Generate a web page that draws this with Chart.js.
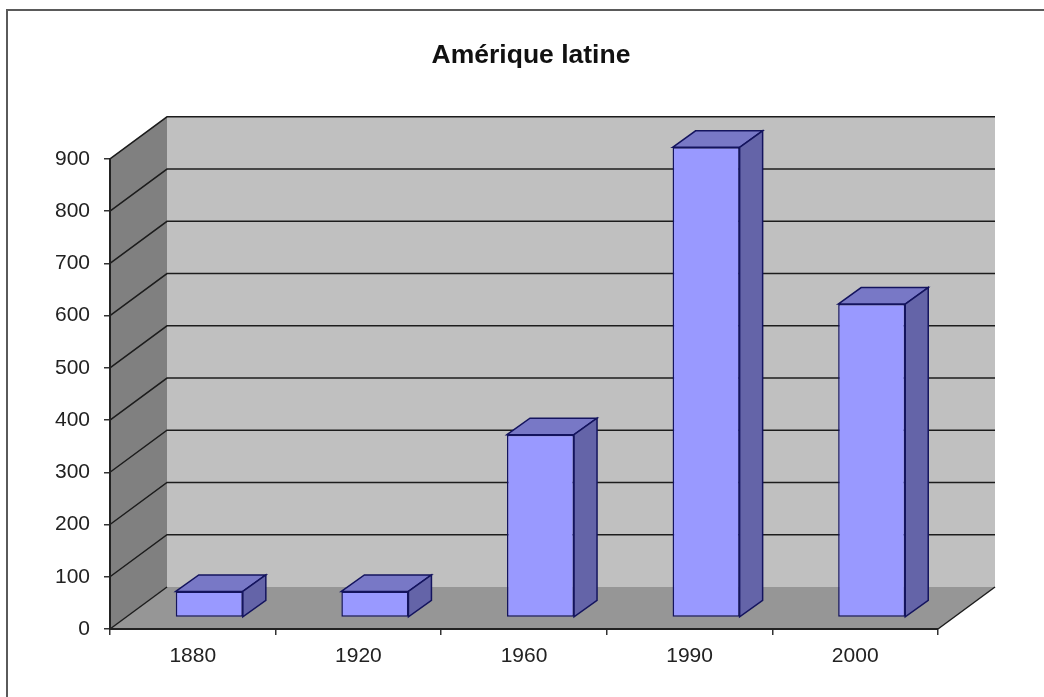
<!DOCTYPE html>
<html><head><meta charset="utf-8">
<style>html,body{margin:0;padding:0;background:#fff}canvas{display:block}</style>
<script src="https://cdn.jsdelivr.net/npm/chart.js@4"></script>
</head><body><canvas id="c" width="1044" height="697"></canvas>
<script>
const titleText = "Amérique latine";
const categories = ["1880", "1920", "1960", "1990", "2000"];
const values = [50, 50, 350, 900, 600];
const yTicks = [0, 100, 200, 300, 400, 500, 600, 700, 800, 900];

const wallDx = 57, wallDy = -42, barDx = 16.5, barDy = -11.5, sideDx = 23, sideDy = -16.5;
const font = "'Liberation Sans', Arial, sans-serif";

function poly(ctx, pts, fill, stroke, lw) {
  ctx.beginPath();
  pts.forEach((p, i) => i ? ctx.lineTo(p[0], p[1]) : ctx.moveTo(p[0], p[1]));
  ctx.closePath();
  if (fill) { ctx.fillStyle = fill; ctx.fill(); }
  if (stroke) { ctx.strokeStyle = stroke; ctx.lineWidth = lw; ctx.stroke(); }
}

const scene = {
  id: "scene",
  beforeDraw(chart) {
    const { ctx } = chart, x = chart.scales.x, y = chart.scales.y;
    const l = x.left, r = x.right, t = y.getPixelForValue(900), b = y.getPixelForValue(0);
    ctx.save();
    ctx.strokeStyle = "#5a5a5a"; ctx.lineWidth = 2;
    ctx.beginPath(); ctx.moveTo(7, 697); ctx.lineTo(7, 10); ctx.lineTo(1044, 10); ctx.stroke();
    poly(ctx, [[l + wallDx, t + wallDy], [r + wallDx, t + wallDy], [r + wallDx, b + wallDy], [l + wallDx, b + wallDy]], "#c0c0c0");
    poly(ctx, [[l, t], [l + wallDx, t + wallDy], [l + wallDx, b + wallDy], [l, b]], "#808080");
    poly(ctx, [[l, b], [l + wallDx, b + wallDy], [r + wallDx, b + wallDy], [r, b]], "#969696");
    ctx.strokeStyle = "#1c1c1c"; ctx.lineWidth = 1.5;
    yTicks.forEach(v => {
      const py = y.getPixelForValue(v);
      ctx.beginPath();
      ctx.moveTo(l, py); ctx.lineTo(l + wallDx, py + wallDy);
      if (v > 0) ctx.lineTo(r + wallDx, py + wallDy);
      ctx.stroke();
    });
    ctx.beginPath(); ctx.moveTo(r, b); ctx.lineTo(r + wallDx, b + wallDy); ctx.stroke();
    ctx.restore();
  },
  beforeDatasetDraw(chart) {
    const { ctx } = chart;
    const meta = chart.getDatasetMeta(0);
    ctx.save();
    ctx.translate(barDx, barDy);
    meta.data.forEach(bar => {
      const p = bar.getProps(["x", "y", "base", "width"], true);
      const L = p.x - p.width / 2, R = p.x + p.width / 2;
      const outline = "#14145e";
      poly(ctx, [[L, p.y], [L + sideDx, p.y + sideDy], [R + sideDx, p.y + sideDy], [R, p.y]], "#7878c6", outline, 1.5);
      poly(ctx, [[R, p.y], [R + sideDx, p.y + sideDy], [R + sideDx, p.base + sideDy], [R, p.base]], "#6464a8", outline, 1.5);
    });
  },
  afterDatasetDraw(chart) { chart.ctx.restore(); }
};

new Chart(document.getElementById("c"), {
  type: "bar",
  data: {
    labels: categories,
    datasets: [{
      data: values,
      backgroundColor: "#9999ff",
      borderColor: "#14145e",
      borderWidth: 1.5,
      borderSkipped: false,
      barPercentage: 0.405,
      categoryPercentage: 1
    }]
  },
  plugins: [scene],
  options: {
    responsive: false,
    animation: false,
    layout: { padding: { left: 18, right: 0, top: 0, bottom: 0 } },
    plugins: {
      legend: { display: false },
      tooltip: { enabled: false },
      title: {
        display: true, text: titleText, color: "#111",
        font: { family: font, size: 26.5, weight: "bold" },
        padding: { top: 40, bottom: 87 }
      }
    },
    scales: {
      x: {
        grid: { drawOnChartArea: false, color: "#333", tickLength: 6, lineWidth: 1.5 },
        border: { color: "#222", width: 2 },
        ticks: { color: "#222", font: { family: font, size: 21 }, padding: 9, maxRotation: 0 },
        afterFit(s) { s.height = 68; }
      },
      y: {
        min: 0, max: 900,
        afterBuildTicks(s) { s.ticks = yTicks.map(v => ({ value: v })); },
        grid: { drawOnChartArea: false, color: "#333", tickLength: 6, lineWidth: 1.5 },
        border: { color: "#222", width: 2 },
        ticks: { color: "#222", font: { family: font, size: 21 }, padding: 14 },
        afterFit(s) { s.width = 92; }
      },
      r: {
        position: "right", min: 0, max: 1,
        grid: { display: false }, border: { display: false }, ticks: { display: false },
        afterFit(s) { s.width = 106; }
      }
    }
  }
});
</script></body></html>
